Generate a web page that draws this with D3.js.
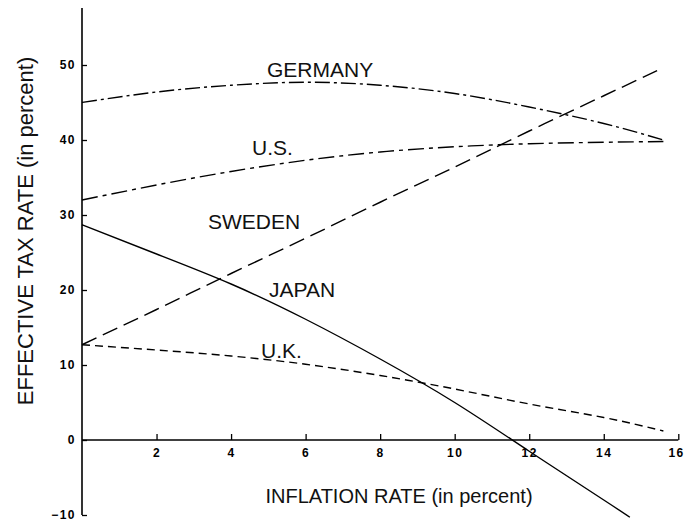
<!DOCTYPE html>
<html>
<head>
<meta charset="utf-8">
<script src="https://cdn.jsdelivr.net/npm/d3@7"></script>
<style>
  body { margin: 0; background: #fff; }
  svg { display: block; }
  .tick text { font-family: "Liberation Sans", Arial, sans-serif; font-weight: bold; font-size: 12px; letter-spacing: 1.5px; fill: #000; }
  .lbl { font-family: "Liberation Sans", Arial, sans-serif; font-size: 21px; fill: #111; }
</style>
</head>
<body>
<div id="graph"></div>
<script>
//Data (x = inflation rate, y = effective tax rate)
const germanyX = [0, 2, 4, 6, 8, 10, 12, 14, 15.6];
const germanyY = [45.0, 46.4, 47.3, 47.7, 47.3, 46.2, 44.4, 42.2, 40.0];
const usX = [0, 2, 4, 6, 8, 10, 12, 14, 15.6];
const usY = [32.0, 34.0, 35.8, 37.3, 38.4, 39.1, 39.5, 39.7, 39.8];
const swedenX = [0, 2, 4, 6, 8, 10, 12, 14, 15.5];
const swedenY = [12.7, 17.4, 22.2, 26.9, 31.7, 36.4, 41.2, 45.9, 49.4];
const japanX = [0, 2, 4, 6, 8, 10, 12, 14, 14.7];
const japanY = [28.7, 24.8, 20.8, 16.1, 10.8, 5.0, -1.5, -8.0, -10.3];
const ukX = [0, 2, 4, 6, 8, 10, 12, 14, 15.6];
const ukY = [12.7, 12.0, 11.2, 10.1, 8.6, 6.8, 4.8, 3.0, 1.2];

const xTickValues = [2, 4, 6, 8, 10, 12, 14, 16];
const yTickValues = [-10, 0, 10, 20, 30, 40, 50];

//Styles
const seriesConfig = [
    {name: 'GERMANY', xs: germanyX, ys: germanyY, dash: '15,4,3,4', label: [267, 77]},
    {name: 'U.S.', xs: usX, ys: usY, dash: '16,5,4,5', label: [252, 155]},
    {name: 'SWEDEN', xs: swedenX, ys: swedenY, dash: '16,7', label: [208, 229]},
    {name: 'JAPAN', xs: japanX, ys: japanY, dash: null, label: [269, 297]},
    {name: 'U.K.', xs: ukX, ys: ukY, dash: '8,5', label: [261, 358]}
];

const width = 684;
const height = 522;

//Scales
const x = d3.scaleLinear().domain([0, 16]).range([82, 678.3]);
const y = d3.scaleLinear().domain([-10, 50]).range([515, 65]);

const svg = d3.select('#graph').append('svg')
    .attr('width', width)
    .attr('height', height);

svg.append('rect')
    .attr('width', width)
    .attr('height', height)
    .attr('fill', '#fff');

//Y axis
const yAxis = d3.axisLeft(y)
    .tickValues(yTickValues)
    .tickSizeInner(-5)
    .tickSizeOuter(0)
    .tickPadding(6)
    .tickFormat(d3.format('d'));

const yg = svg.append('g')
    .attr('transform', `translate(${x(0)}, 0)`)
    .call(yAxis);
yg.select('.domain').remove();
yg.selectAll('.tick line').attr('stroke', '#000').attr('stroke-width', 1.3);

svg.append('line')
    .attr('x1', x(0)).attr('x2', x(0))
    .attr('y1', 8).attr('y2', y(-10))
    .attr('stroke', '#000')
    .attr('stroke-width', 1.6);

//X axis
const xAxis = d3.axisBottom(x)
    .tickValues(xTickValues)
    .tickSizeInner(-6)
    .tickSizeOuter(0)
    .tickPadding(8)
    .tickFormat(d3.format('d'));

const xg = svg.append('g')
    .attr('transform', `translate(0, ${y(0)})`)
    .call(xAxis);
xg.select('.domain').remove();
xg.selectAll('.tick line').attr('stroke', '#000').attr('stroke-width', 1.3);
//last label sits on the right edge; pull it in so it stays readable
xg.selectAll('.tick text').filter(d => d === 16).attr('text-anchor', 'end').attr('dx', 6);

svg.append('line')
    .attr('x1', x(0)).attr('x2', x(16))
    .attr('y1', y(0)).attr('y2', y(0))
    .attr('stroke', '#000')
    .attr('stroke-width', 1.6);

//Lines
const line = d3.line()
    .x(d => x(d[0]))
    .y(d => y(d[1]))
    .curve(d3.curveNatural);

seriesConfig.forEach(s => {
    const pts = s.xs.map((v, i) => [v, s.ys[i]]);
    svg.append('path')
        .attr('d', line(pts))
        .attr('fill', 'none')
        .attr('stroke', '#000')
        .attr('stroke-width', 1.4)
        .attr('stroke-dasharray', s.dash);
    svg.append('text')
        .attr('class', 'lbl')
        .attr('x', s.label[0])
        .attr('y', s.label[1])
        .text(s.name);
});

//Axis titles
svg.append('text')
    .attr('class', 'lbl')
    .attr('x', 399)
    .attr('y', 503)
    .attr('text-anchor', 'middle')
    .style('font-size', '20px')
    .text('INFLATION RATE (in percent)');

svg.append('text')
    .attr('class', 'lbl')
    .attr('transform', 'translate(33, 231) rotate(-90)')
    .attr('text-anchor', 'middle')
    .style('font-size', '22px')
    .text('EFFECTIVE TAX RATE (in percent)');
</script>
</body>
</html>
